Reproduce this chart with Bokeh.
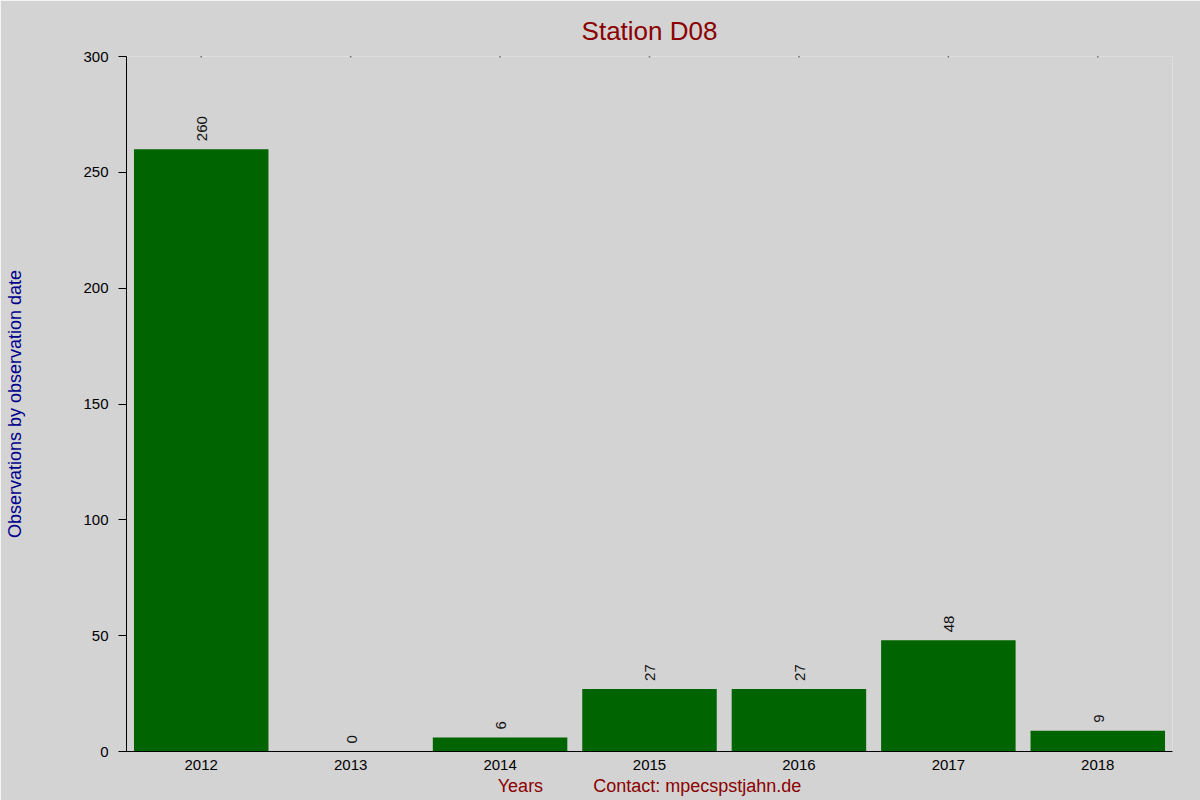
from bokeh.plotting import figure
from bokeh.models import ColumnDataSource, FixedTicker, LabelSet
from bokeh.core.properties import value
from bokeh.embed import file_html
from bokeh.resources import INLINE

title_text = "Station D08"
years = ["2012", "2013", "2014", "2015", "2016", "2017", "2018"]
counts = [260, 0, 6, 27, 27, 48, 9]
y_ticks = [0, 50, 100, 150, 200, 250, 300]

BG = "#d3d3d3"
FONT = "Liberation Sans"

src = ColumnDataSource(dict(x=years, top=counts, lab=[str(c) for c in counts]))
top_src = ColumnDataSource(dict(x=years, y=[y_ticks[-1]] * len(years)))

p = figure(x_range=years, y_range=(y_ticks[0], y_ticks[-1]), width=1200, height=800,
           output_backend="svg", toolbar_location=None,
           min_border_left=126, min_border_right=28, min_border_top=56, min_border_bottom=49)
p.background_fill_color = BG
p.border_fill_color = BG
p.outline_line_color = None
p.xgrid.visible = False
p.ygrid.visible = False

p.title.text = title_text
p.title.align = "center"
p.title.text_color = "#8b0000"
p.title.text_font = FONT
p.title.text_font_size = "26px"
p.title.text_font_style = "normal"
p.title.standoff = 22

p.vbar(x="x", top="top", width=0.9, source=src, fill_color="#006400", line_color=None)

# tiny tick dots along the top edge
p.scatter(x="x", y="y", source=top_src, marker="square", size=1.5,
          fill_color="black", line_color=None)

labels = LabelSet(x="x", y="top", text="lab", source=src, angle=1.5708,
                  text_align="left", text_baseline="middle", y_offset=8, x_offset=1,
                  text_font=value(FONT), text_font_size=value("15px"), text_color="#111111")
p.add_layout(labels)

xa = p.xaxis[0]
xa.axis_label = "Years" + "\u00a0" * 10 + "Contact: mpecspstjahn.de"
xa.axis_label_text_color = "#8b0000"
xa.axis_label_text_font = FONT
xa.axis_label_text_font_size = "18px"
xa.axis_label_text_font_style = "normal"
xa.axis_label_standoff = 3
xa.major_tick_out = 0
xa.major_tick_in = 0
xa.minor_tick_out = 0
xa.major_label_standoff = 8
xa.major_label_text_font = FONT
xa.major_label_text_font_size = "15px"
xa.major_label_text_color = "black"
xa.axis_line_color = "black"
xa.axis_line_width = 1

ya = p.yaxis[0]
ya.ticker = FixedTicker(ticks=y_ticks)
ya.axis_label = "Observations by observation date"
ya.axis_label_text_color = "#00008b"
ya.axis_label_text_font = FONT
ya.axis_label_text_font_size = "18px"
ya.axis_label_text_font_style = "normal"
ya.axis_label_standoff = 55
ya.major_tick_out = 8
ya.major_tick_in = 0
ya.minor_tick_out = 0
ya.minor_tick_in = 0
ya.major_label_standoff = 10
ya.major_label_text_font = FONT
ya.major_label_text_font_size = "15px"
ya.major_label_text_color = "black"
ya.axis_line_color = "black"

open("out.html", "w").write(file_html(p, INLINE))
